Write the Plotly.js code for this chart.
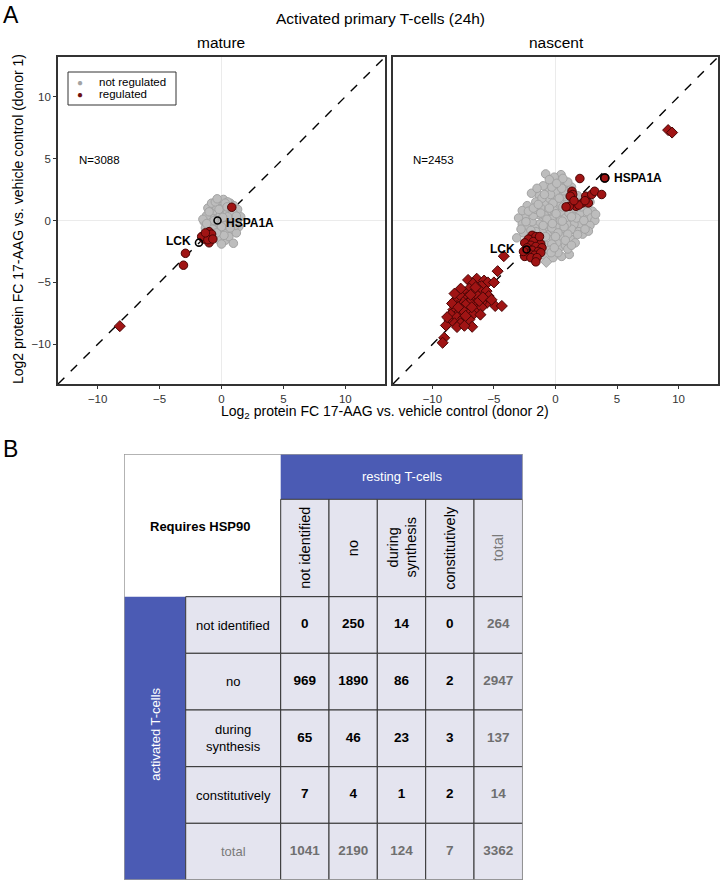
<!DOCTYPE html>
<html><head><meta charset="utf-8">
<script src="https://cdn.plot.ly/plotly-3.0.1.min.js"></script>
<style>html,body{margin:0;padding:0;background:#fff}</style>
</head><body><div id="chart" style="width:722px;height:894px"></div>
<script>
// ---------------- DATA ----------------
// Panel "mature": [x = donor 2, y = donor 1]
const matureNotRegulated = [[0,0],[0.3,0.2],[-0.3,0.3],[0.5,-0.3],[-0.5,-0.4],[0.8,0.4],[-0.8,0.2],[0.2,0.7],[-0.2,-0.7],[0.9,-0.2],[-1.0,-0.3],[0.6,0.9],[-0.6,0.8],[1.1,0.6],[-1.2,0.4],[0.1,1.2],[-0.4,1.1],[0.4,-1.0],[-0.1,-1.2],[1.3,0.1],[-1.4,-0.1],[0.9,-0.8],[-0.9,-1.0],[0.7,1.4],[-0.2,1.6],[0.16,1.7],[-0.3,-1.5],[0.3,-1.6],[1.4,-0.5],[1.55,0.3],[-1.5,0.1],[0.0,-1.9],[1.0,1.2],[-0.7,-1.3],[0.6,-1.3],[1.2,-1.0],[-1.1,1.0],[-0.8,1.4],[0.4,0.5],[-0.1,0.4],[0.2,-0.4],[-0.4,-0.1],[0.7,0.0],[-0.7,-0.7],[0.5,1.5],[0.96,-1.84],[-0.5,1.5],[1.3,0.9],[0.3,1.4],[-1.3,-0.6],[1.1,-0.4],[-0.2,0.9],[0.0,-0.5],[-0.6,0.0],[0.9,0.7],[-1.0,0.7],[0.5,0.3],[0.2,-1.2],[-0.4,-1.0],[0.7,-0.6],[-0.35,1.75],[0.45,1.1],[1.2,0.35],[-1.2,-0.25],[0.1,0.25]];
const matureRegulated = [[0.83,1.07],[-1.0,-0.9],[-1.2,-1.2],[-0.9,-1.4],[-1.4,-1.5],[-1.0,-1.8],[-0.8,-1.1],[-1.6,-1.3],[-1.1,-1.55],[-0.7,-1.5],[-1.3,-1.0],[-2.91,-2.65],[-3.07,-3.61]];
const matureRegulatedDiamond = [[-8.21,-8.53]];
const matureHighlighted = [[-0.32,0.0],[-1.82,-1.79]];
const matureHighlightNames = ["HSPA1A","LCK"];

// Panel "nascent"
const nascentNotRegulated = [[-0.5,-0.3],[0,0.2],[0.3,-0.1],[-0.2,0.5],[0.6,0.4],[-0.8,-0.6],[0.9,0.9],[-1.1,-0.9],[1.2,1.0],[-0.4,-1.0],[0.4,-0.6],[-1.0,0.1],[1.0,0.1],[0.2,1.1],[-0.6,0.8],[-1.5,-1.2],[1.5,1.4],[-1.3,-0.3],[1.4,0.5],[0.7,1.6],[-0.2,-1.5],[0.8,-0.9],[-1.7,-0.6],[1.8,0.9],[0.0,1.7],[-0.9,1.3],[0.5,2.0],[-0.5,1.8],[1.1,2.2],[-1.2,1.0],[-1.9,-0.1],[-2.1,0.75],[-1.95,2.2],[-0.8,3.76],[0.45,3.7],[-0.3,3.1],[0.2,2.7],[-0.6,2.5],[0.9,2.8],[-1.3,2.0],[-1.6,1.5],[-2.5,0.4],[-3.0,0.2],[-2.7,-0.3],[-2.3,-0.6],[-2.6,-1.0],[-2.0,-1.5],[-1.5,-2.0],[0.5,-2.9],[1.12,-2.74],[2.59,-0.6],[2.0,-0.3],[1.6,-0.8],[1.2,-1.5],[0.3,-2.2],[-0.3,-2.5],[0.8,-2.0],[2.4,0.3],[3.0,0.75],[2.6,1.2],[2.2,1.6],[1.8,2.0],[2.5,-0.2],[-0.9,-2.8],[-0.2,-3.0],[0.1,-1.8],[-0.7,-2.0],[1.5,-0.3],[2.0,0.6],[-0.1,-0.8],[0.5,0.7],[-0.3,0.1],[0.1,-0.4],[1.3,-0.7],[0.9,-0.3],[1.7,0.2],[0.4,1.4],[-0.9,0.4],[-1.4,0.5],[-0.6,-0.3],[-1.8,0.4],[-2.3,1.2],[-1.1,1.8],[0.0,2.3],[0.7,2.4],[1.4,1.8],[2.1,1.1],[1.9,-0.9],[0.6,-1.3],[-0.3,-1.9],[-1.2,-1.6],[-1.6,-0.9],[-2.0,-0.8],[-0.4,2.1],[0.3,3.2],[-1.0,2.8],[1.3,2.7],[2.6,0.7],[2.9,0.2],[3.2,0.0],[1.0,-2.3],[0.2,-2.6],[-1.3,-2.4],[-0.5,-2.4],[1.6,-1.8],[2.2,-1.1],[2.8,-0.4],[0.4,0.0],[-0.1,0.8],[0.8,0.2],[1.1,0.6],[-0.7,0.1],[-0.3,-0.6],[0.2,-1.0],[-1.0,-0.4],[-0.2,1.4],[0.6,1.1],[1.6,1.0],[-1.6,0.9],[0.9,1.3],[-0.8,-1.3],[0.0,-1.3],[1.0,-1.1],[2.3,0.0],[-2.4,-0.1],[-1.2,0.6],[0.5,2.6],[-0.3,2.7],[-0.1,3.5],[-0.5,3.3],[0.1,3.0],[-3.15,-1.4],[-2.7,0.8],[-2.2,0.75],[-0.35,-2.6],[1.79,-1.13],[2.67,-0.86],[3.26,0.5],[2.8,1.5],[1.0,3.1],[-1.5,2.6],[-2.8,-0.7],[-1.8,1.0],[0.7,-0.5],[1.3,0.3],[-0.5,1.0],[0.3,1.8],[-1.4,1.3],[1.9,1.4],[-0.9,2.1],[0.6,3.4],[-1.8,-1.2],[-0.1,-2.2],[0.8,-1.6],[2.4,-0.7],[1.3,-2.0],[0.05,0.55],[-0.25,-0.25],[0.55,-0.05]];
const nascentNotRegulatedDiamond = [[-0.75,-3.34]];
const nascentRegulated = [[1.98,3.39],[1.34,2.36],[1.4,2.1],[1.2,1.96],[2.46,1.96],[2.94,2.1],[3.18,2.36],[3.75,2.1],[2.2,1.42],[2.67,1.42],[1.66,1.15],[1.12,1.15],[0.86,1.1],[1.9,1.25],[2.4,1.6],[1.5,1.6],[4.0,3.43],
  [-1.9,-1.2],[-1.6,-1.3],[-2.2,-1.5],[-1.4,-1.6],[-1.8,-1.7],[-2.5,-1.8],[-1.2,-1.9],[-2.0,-2.0],[-1.6,-2.1],[-1.1,-2.2],[-2.3,-2.2],[-1.9,-2.4],[-1.4,-2.5],[-2.1,-2.7],[-1.7,-2.8],[-1.2,-2.6],[-2.5,-2.9],[-2.0,-3.0],[-1.5,-3.0],[-1.6,-3.34],[-2.6,-2.5],[-1.3,-1.3]];
const nascentRegulatedDiamond = [[9.15,7.3],[9.47,7.1],[-4.2,-2.88],[-4.7,-4.09],[-7.1,-4.8],[-6.4,-4.7],[-5.8,-4.85],[-5.5,-5.0],[-6.0,-5.3],[-6.7,-5.1],[-6.2,-5.6],[-5.6,-5.7],[-7.0,-5.5],[-6.6,-5.8],[-7.4,-5.8],[-7.9,-5.9],[-7.2,-6.2],[-6.8,-6.3],[-6.3,-6.1],[-5.43,-6.1],[-5.56,-6.64],[-4.9,-6.9],[-4.36,-6.9],[-6.0,-6.6],[-6.5,-6.7],[-7.0,-6.6],[-7.6,-6.5],[-8.1,-6.4],[-8.0,-6.9],[-7.5,-7.0],[-7.0,-7.1],[-6.4,-7.2],[-6.0,-7.0],[-8.3,-7.2],[-7.8,-7.4],[-7.2,-7.5],[-6.7,-7.6],[-8.5,-7.6],[-8.0,-7.8],[-7.5,-7.9],[-7.0,-8.0],[-8.6,-8.1],[-8.2,-8.3],[-7.7,-8.3],[-6.77,-8.58],[-8.9,-8.47],[-8.0,-8.6],[-7.4,-8.5],[-9.04,-9.47],[-9.17,-9.87],[-7.8,-6.0],[-7.3,-6.8],[-6.9,-6.0],[-7.6,-7.2],[-8.4,-6.7],[-6.2,-6.5],[-5.9,-6.2],[-6.5,-5.4],[-7.7,-5.5],[-8.2,-5.9],[-6.8,-7.0],[-7.9,-7.0],[-8.8,-7.8],[-7.3,-7.7],[-5.2,-6.4],[-6.1,-7.6],[-5.0,-5.0]];
const nascentHighlightedFilled = [[4.0,3.43]];
const nascentHighlightedOpen = [[-2.35,-2.34]];
const nascentHighlightNames = ["HSPA1A","LCK"];
const panelCounts = ["N=3088","N=2453"];
const panelNames = ["mature","nascent"];
const legendLabels = ["not regulated","regulated"];

// Table B
const restingCategories = ["not identified","no","during<br>synthesis","constitutively","total"];
const activatedCategories = ["not identified","no","during<br>synthesis","constitutively","total"];
const counts = [
  [0, 250, 14, 0, 264],
  [969, 1890, 86, 2, 2947],
  [65, 46, 23, 3, 137],
  [7, 4, 1, 2, 14],
  [1041, 2190, 124, 7, 3362]
];

// ---------------- STYLE / LAYOUT ----------------
const FONT = "Liberation Sans, Arial, sans-serif";
const W = 722, H = 894;
const R = 13.2;
const GREY = {color:"#bdbdbd", line:{color:"#a3a3a3", width:1}, size:8.5};
const RED = {color:"#a01414", line:{color:"#4a0505", width:1}, size:8.5};
const BLUE = "#4b5bb4", LAV = "#e4e4ef", GRID = "#333333";
const xs = a => a.map(p => p[0]), ys = a => a.map(p => p[1]);
const px = v => v / W, py = v => 1 - v / H;

const traces = [];
function pts(data, xa, ya, marker, symbol, name){
  traces.push({type:"scatter", mode:"markers", x:xs(data), y:ys(data), xaxis:xa, yaxis:ya,
    name:name, showlegend:false, hoverinfo:"skip",
    marker:Object.assign({symbol:symbol}, marker)});
}
pts(matureNotRegulated, "x", "y", GREY, "circle", legendLabels[0]);
pts(matureRegulated, "x", "y", RED, "circle", legendLabels[1]);
pts(matureRegulatedDiamond, "x", "y", RED, "diamond", legendLabels[1]);
pts(nascentNotRegulated, "x2", "y2", GREY, "circle", legendLabels[0]);
pts(nascentNotRegulatedDiamond, "x2", "y2", GREY, "diamond", legendLabels[0]);
pts(nascentRegulated, "x2", "y2", RED, "circle", legendLabels[1]);
pts(nascentRegulatedDiamond, "x2", "y2", RED, "diamond", legendLabels[1]);
const OPEN = {color:"rgba(0,0,0,0)", line:{color:"#000", width:1.6}, size:7};
pts(matureHighlighted, "x", "y", OPEN, "circle", "highlight");
pts(nascentHighlightedOpen, "x2", "y2", OPEN, "circle", "highlight");
pts(nascentHighlightedFilled, "x2", "y2", {color:"#a01414", line:{color:"#000", width:1.6}, size:8}, "circle", "highlight");

// Table geometry (in table-pixel units)
const colEdges = [0, 61.7, 156.7, 205, 253.3, 301.7, 350, 398.7];
const rowEdges = [0, 45.3, 142.7, 199.3, 256, 312.7, 369.3, 426];
const mid = (a,b) => (a+b)/2;

// number cells as text trace
const tx = [], ty = [], tt = [], tc = [];
counts.forEach((row, i) => row.forEach((v, j) => {
  tx.push(mid(colEdges[j+2], colEdges[j+3]));
  ty.push(mid(rowEdges[i+2], rowEdges[i+3]));
  tt.push("<b>" + v + "</b>");
  tc.push(i === 4 || j === 4 ? "#6f6f6f" : "#000000");
}));
traces.push({type:"scatter", mode:"text", x:tx, y:ty, text:tt, xaxis:"x3", yaxis:"y3",
  textfont:{family:FONT, size:13.5, color:tc}, showlegend:false, hoverinfo:"skip"});

const shapes = [];
// diagonal reference lines
[["x","y"],["x2","y2"]].forEach(([a,b]) => shapes.push({type:"line", xref:a, yref:b, x0:-R, y0:-R, x1:R, y1:R,
  line:{color:"#000", width:1.4, dash:"dash"}, layer:"below"}));
// legend box
shapes.push({type:"rect", xref:"paper", yref:"paper", x0:px(68), x1:px(176), y0:py(105), y1:py(72),
  line:{color:"#333", width:1}, fillcolor:"#fff", layer:"above"});
// table shapes
function rect(x0,x1,y0,y1,fill,line){ shapes.push({type:"rect", xref:"x3", yref:"y3", x0:x0, x1:x1, y0:y0, y1:y1,
  fillcolor:fill, line:line, layer:"below"}); }
rect(colEdges[0], colEdges[2], rowEdges[0], rowEdges[2], "#ffffff", {width:0});
rect(colEdges[2], colEdges[7], rowEdges[0], rowEdges[1], BLUE, {width:0});
rect(colEdges[0], colEdges[1], rowEdges[2], rowEdges[7], BLUE, {width:0});
for (let j = 2; j < 7; j++) rect(colEdges[j], colEdges[j+1], rowEdges[1], rowEdges[2], LAV, {color:GRID, width:1});
for (let i = 2; i < 7; i++) for (let j = 1; j < 7; j++) rect(colEdges[j], colEdges[j+1], rowEdges[i], rowEdges[i+1], LAV, {color:GRID, width:1});
shapes.push({type:"rect", xref:"x3", yref:"y3", x0:0, x1:398.7, y0:0, y1:426, line:{color:"#9a9a9a", width:1.5}, fillcolor:"rgba(0,0,0,0)"});

const ann = [];
function a(o){ ann.push(Object.assign({showarrow:false, xanchor:"center", yanchor:"middle", font:{family:FONT, size:13, color:"#000"}}, o)); }
a({text:"A", xref:"paper", yref:"paper", x:px(1), y:py(0), xanchor:"left", yanchor:"top", font:{family:FONT, size:23, color:"#000"}});
a({text:"B", xref:"paper", yref:"paper", x:px(1), y:py(434), xanchor:"left", yanchor:"top", font:{family:FONT, size:23, color:"#000"}});
a({text:"Activated primary T-cells (24h)", xref:"paper", yref:"paper", x:px(380), y:py(19), font:{family:FONT, size:15.5, color:"#000"}});
a({text:panelNames[0], xref:"paper", yref:"paper", x:px(221), y:py(43), font:{family:FONT, size:15.5, color:"#000"}});
a({text:panelNames[1], xref:"paper", yref:"paper", x:px(556), y:py(43), font:{family:FONT, size:15.5, color:"#000"}});
a({text:"Log2 protein FC 17-AAG vs. vehicle control (donor 1)", xref:"paper", yref:"paper", x:px(18), y:py(219), textangle:-90, font:{family:FONT, size:14, color:"#000"}});
a({text:"Log<sub>2</sub> protein FC 17-AAG vs. vehicle control (donor 2)", xref:"paper", yref:"paper", x:px(385), y:py(412), font:{family:FONT, size:14, color:"#000"}});
a({text:panelCounts[0], xref:"x", yref:"y", x:-11.7, y:4.9, xanchor:"left", font:{family:FONT, size:11.5, color:"#000"}});
a({text:panelCounts[1], xref:"x2", yref:"y2", x:-11.7, y:4.9, xanchor:"left", font:{family:FONT, size:11.5, color:"#000"}});
// legend entries
a({text:"●", xref:"paper", yref:"paper", x:px(80), y:py(82), font:{family:FONT, size:10, color:"#a3a3a3"}});
a({text:"●", xref:"paper", yref:"paper", x:px(80), y:py(94), font:{family:FONT, size:10, color:"#6e1010"}});
a({text:legendLabels[0], xref:"paper", yref:"paper", x:px(97), y:py(82), xanchor:"left", font:{family:FONT, size:11.5, color:"#000"}});
a({text:legendLabels[1], xref:"paper", yref:"paper", x:px(97), y:py(94), xanchor:"left", font:{family:FONT, size:11.5, color:"#000"}});
// gene labels
a({text:"<b>"+matureHighlightNames[0]+"</b>", xref:"x", yref:"y", x:matureHighlighted[0][0]+0.5, y:matureHighlighted[0][1]-0.2, xanchor:"left", font:{family:FONT, size:12, color:"#000"}});
a({text:"<b>"+matureHighlightNames[1]+"</b>", xref:"x", yref:"y", x:matureHighlighted[1][0]-0.5, y:matureHighlighted[1][1]+0.15, xanchor:"right", font:{family:FONT, size:12, color:"#000"}});
a({text:"<b>"+nascentHighlightNames[0]+"</b>", xref:"x2", yref:"y2", x:nascentHighlightedFilled[0][0]+0.6, y:nascentHighlightedFilled[0][1], xanchor:"left", font:{family:FONT, size:12, color:"#000"}});
a({text:"<b>"+nascentHighlightNames[1]+"</b>", xref:"x2", yref:"y2", x:nascentHighlightedOpen[0][0]-0.8, y:nascentHighlightedOpen[0][1], xanchor:"right", font:{family:FONT, size:12, color:"#000"}});
// table texts
a({text:"<b>Requires HSP90</b>", xref:"x3", yref:"y3", x:76, y:72.5});
a({text:"resting T-cells", xref:"x3", yref:"y3", x:mid(colEdges[2], colEdges[7]), y:mid(rowEdges[0], rowEdges[1]), font:{family:FONT, size:13, color:"#ffffff"}});
a({text:"activated T-cells", xref:"x3", yref:"y3", x:mid(colEdges[0], colEdges[1]), y:280, textangle:-90, font:{family:FONT, size:13, color:"#ffffff"}});
restingCategories.forEach((c, j) => a({text:c, xref:"x3", yref:"y3", x:mid(colEdges[j+2], colEdges[j+3]), y:94, textangle:-90,
  font:{family:FONT, size:14.5, color: j === 4 ? "#7a7a7a" : "#000"}}));
activatedCategories.forEach((c, i) => a({text:c, xref:"x3", yref:"y3", x:mid(colEdges[1], colEdges[2]), y:mid(rowEdges[i+2], rowEdges[i+3]),
  font:{family:FONT, size:13, color: i === 4 ? "#7a7a7a" : "#000"}}));

const scatterAxis = (dom, anchor, labels) => ({domain:dom, anchor:anchor, range:[-R, R], tickvals:[-10,-5,0,5,10],
  ticks: labels ? "outside" : "", ticklen:3, tickcolor:"#333", tickwidth:1, showticklabels:labels,
  tickfont:{family:FONT, size:11.5, color:"#333333"}, showline:true, mirror:true, linecolor:"#333", linewidth:1.8,
  showgrid:false, zeroline:true, zerolinecolor:"#ebebeb", zerolinewidth:1.5, fixedrange:true});

const xd1 = [px(58), px(385)], xd2 = [px(393), px(718)], yd = [py(384), py(57)];
const layout = {
  width:W, height:H, margin:{l:0, r:0, t:0, b:0}, paper_bgcolor:"#fff", plot_bgcolor:"#fff",
  font:{family:FONT, color:"#000"},
  xaxis:scatterAxis(xd1, "y", true), yaxis:scatterAxis(yd, "x", true),
  xaxis2:scatterAxis(xd2, "y2", true), yaxis2:scatterAxis(yd, "x2", false),
  xaxis3:{domain:[px(124), px(522.7)], anchor:"y3", range:[0, 398.7], visible:false, fixedrange:true},
  yaxis3:{domain:[py(880), py(454)], anchor:"x3", range:[426, 0], visible:false, fixedrange:true},
  showlegend:false,
  shapes:shapes, annotations:ann
};
Plotly.newPlot("chart", traces, layout, {staticPlot:true, displayModeBar:false});
</script></body></html>
